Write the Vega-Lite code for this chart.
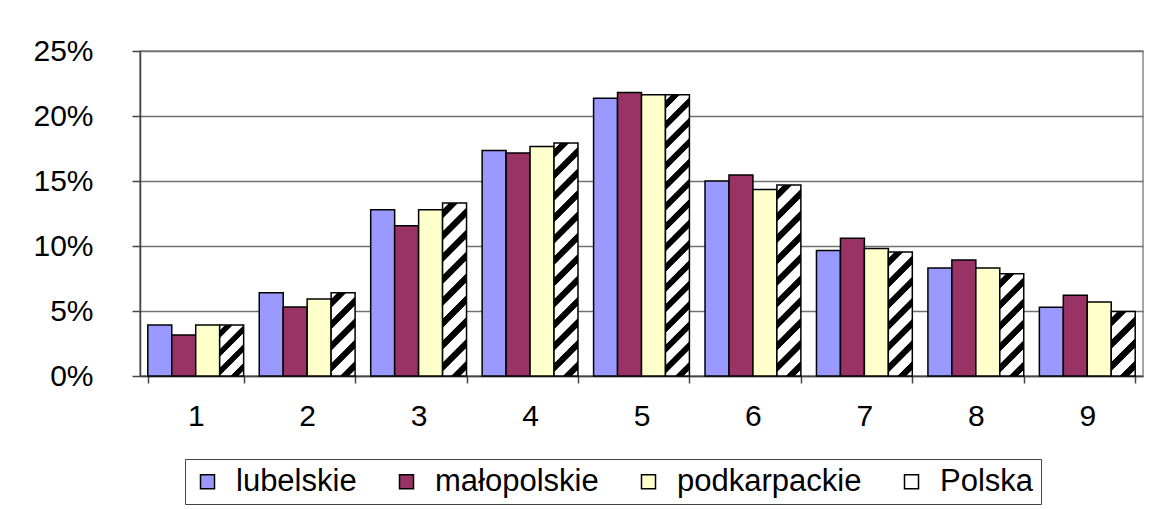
{
  "$schema": "https://vega.github.io/schema/vega-lite/v6.json",
  "autosize": {"type": "none"},
  "width": 1003,
  "height": 325,
  "padding": {"left": 140, "top": 51, "right": 14, "bottom": 133},
  "background": "#ffffff",
  "config": {
    "font": "Liberation Sans",
    "view": {"stroke": "#888888", "strokeWidth": 1.5},
    "axis": {"labelFont": "Liberation Sans", "labelColor": "#000000"},
    "legend": {"labelFont": "Liberation Sans", "labelColor": "#000000"}
  },
  "data": {
    "values": [
      {"g": 1, "series": "lubelskie", "share": 0.0393},
      {"g": 1, "series": "małopolskie", "share": 0.0315},
      {"g": 1, "series": "podkarpackie", "share": 0.0393},
      {"g": 1, "series": "Polska", "share": 0.0393},
      {"g": 2, "series": "lubelskie", "share": 0.064},
      {"g": 2, "series": "małopolskie", "share": 0.0531},
      {"g": 2, "series": "podkarpackie", "share": 0.0593},
      {"g": 2, "series": "Polska", "share": 0.064},
      {"g": 3, "series": "lubelskie", "share": 0.1279},
      {"g": 3, "series": "małopolskie", "share": 0.1156},
      {"g": 3, "series": "podkarpackie", "share": 0.1279},
      {"g": 3, "series": "Polska", "share": 0.133},
      {"g": 4, "series": "lubelskie", "share": 0.1734},
      {"g": 4, "series": "małopolskie", "share": 0.1716},
      {"g": 4, "series": "podkarpackie", "share": 0.1766},
      {"g": 4, "series": "Polska", "share": 0.1792},
      {"g": 5, "series": "lubelskie", "share": 0.2137},
      {"g": 5, "series": "małopolskie", "share": 0.218},
      {"g": 5, "series": "podkarpackie", "share": 0.2163},
      {"g": 5, "series": "Polska", "share": 0.2163},
      {"g": 6, "series": "lubelskie", "share": 0.15},
      {"g": 6, "series": "małopolskie", "share": 0.1547},
      {"g": 6, "series": "podkarpackie", "share": 0.1434},
      {"g": 6, "series": "Polska", "share": 0.1469},
      {"g": 7, "series": "lubelskie", "share": 0.0966},
      {"g": 7, "series": "małopolskie", "share": 0.106},
      {"g": 7, "series": "podkarpackie", "share": 0.098},
      {"g": 7, "series": "Polska", "share": 0.0953},
      {"g": 8, "series": "lubelskie", "share": 0.0831},
      {"g": 8, "series": "małopolskie", "share": 0.0892},
      {"g": 8, "series": "podkarpackie", "share": 0.0831},
      {"g": 8, "series": "Polska", "share": 0.0786},
      {"g": 9, "series": "lubelskie", "share": 0.0528},
      {"g": 9, "series": "małopolskie", "share": 0.0621},
      {"g": 9, "series": "podkarpackie", "share": 0.057},
      {"g": 9, "series": "Polska", "share": 0.0497}
    ]
  },
  "mark": {"type": "bar", "stroke": "#000000", "strokeWidth": 1.5},
  "encoding": {
    "x": {
      "field": "g", "type": "ordinal",
      "scale": {"paddingInner": 0.14, "paddingOuter": 0.07},
      "axis": {
        "title": null, "labelAngle": 0, "labelFontSize": 30, "labelPadding": 18,
        "tickBand": "extent", "tickSize": 7, "tickColor": "#444444", "tickWidth": 1.5,
        "domainColor": "#444444", "domainWidth": 1.5, "grid": false
      }
    },
    "xOffset": {
      "field": "series", "type": "nominal",
      "scale": {"domain": ["lubelskie", "małopolskie", "podkarpackie", "Polska"], "paddingInner": 0, "paddingOuter": 0}
    },
    "y": {
      "field": "share", "type": "quantitative",
      "scale": {"domain": [0, 0.25], "nice": false},
      "axis": {
        "title": null, "format": ".0%", "values": [0, 0.05, 0.1, 0.15, 0.2, 0.25],
        "labelFontSize": 30, "labelPadding": 39, "tickSize": 8, "tickColor": "#444444", "tickWidth": 1.5,
        "domainColor": "#444444", "domainWidth": 1.5,
        "grid": true, "gridColor": "#707070", "gridWidth": 1.3
      }
    },
    "fill": {
      "field": "series", "type": "nominal",
      "scale": {
        "domain": ["lubelskie", "małopolskie", "podkarpackie", "Polska"],
        "range": ["#9999FF", "#993366", "#FFFFCC", "#ffffff"]
      },
      "legend": {
        "title": null, "orient": "none", "legendX": 45, "legendY": 408, "direction": "horizontal",
        "symbolType": "square", "symbolSize": 196, "symbolStrokeColor": "#000000", "symbolStrokeWidth": 1.5,
        "labelFontSize": 31, "labelOffset": 13, "labelLimit": 400, "columnPadding": 34, "padding": 7,
        "strokeColor": "#444444"
      },
      "condition": [
        {"test": "datum.series === 'Polska' && datum.g === 1", "value": {"gradient": "linear", "x1": 0, "y1": 0, "x2": 0.5655, "y2": 1.2041, "stops": [
          {"offset": 0.0675, "color": "#ffffff"}, {"offset": 0.08, "color": "#000000"}, {"offset": 0.17, "color": "#000000"}, {"offset": 0.1825, "color": "#ffffff"},
          {"offset": 0.3175, "color": "#ffffff"}, {"offset": 0.33, "color": "#000000"}, {"offset": 0.42, "color": "#000000"}, {"offset": 0.4325, "color": "#ffffff"},
          {"offset": 0.5675, "color": "#ffffff"}, {"offset": 0.58, "color": "#000000"}, {"offset": 0.67, "color": "#000000"}, {"offset": 0.6825, "color": "#ffffff"},
          {"offset": 0.8175, "color": "#ffffff"}, {"offset": 0.83, "color": "#000000"}, {"offset": 0.92, "color": "#000000"}, {"offset": 0.9325, "color": "#ffffff"}]}},
        {"test": "datum.series === 'Polska' && datum.g === 2", "value": {"gradient": "linear", "x1": 0, "y1": 0, "x2": 0.3431, "y2": 1.1895, "stops": [
          {"offset": 0.054, "color": "#ffffff"}, {"offset": 0.064, "color": "#000000"}, {"offset": 0.136, "color": "#000000"}, {"offset": 0.146, "color": "#ffffff"},
          {"offset": 0.254, "color": "#ffffff"}, {"offset": 0.264, "color": "#000000"}, {"offset": 0.336, "color": "#000000"}, {"offset": 0.346, "color": "#ffffff"},
          {"offset": 0.454, "color": "#ffffff"}, {"offset": 0.464, "color": "#000000"}, {"offset": 0.536, "color": "#000000"}, {"offset": 0.546, "color": "#ffffff"},
          {"offset": 0.654, "color": "#ffffff"}, {"offset": 0.664, "color": "#000000"}, {"offset": 0.736, "color": "#000000"}, {"offset": 0.746, "color": "#ffffff"},
          {"offset": 0.854, "color": "#ffffff"}, {"offset": 0.864, "color": "#000000"}, {"offset": 0.936, "color": "#000000"}, {"offset": 0.946, "color": "#ffffff"}]}},
        {"test": "datum.series === 'Polska' && datum.g === 3", "value": {"gradient": "linear", "x1": 0, "y1": 0, "x2": 0.1551, "y2": 1.1173, "stops": [
          {"offset": 0.03, "color": "#ffffff"}, {"offset": 0.0356, "color": "#000000"}, {"offset": 0.0756, "color": "#000000"}, {"offset": 0.0811, "color": "#ffffff"},
          {"offset": 0.1411, "color": "#ffffff"}, {"offset": 0.1467, "color": "#000000"}, {"offset": 0.1867, "color": "#000000"}, {"offset": 0.1922, "color": "#ffffff"},
          {"offset": 0.2522, "color": "#ffffff"}, {"offset": 0.2578, "color": "#000000"}, {"offset": 0.2978, "color": "#000000"}, {"offset": 0.3033, "color": "#ffffff"},
          {"offset": 0.3633, "color": "#ffffff"}, {"offset": 0.3689, "color": "#000000"}, {"offset": 0.4089, "color": "#000000"}, {"offset": 0.4144, "color": "#ffffff"},
          {"offset": 0.4744, "color": "#ffffff"}, {"offset": 0.48, "color": "#000000"}, {"offset": 0.52, "color": "#000000"}, {"offset": 0.5256, "color": "#ffffff"},
          {"offset": 0.5856, "color": "#ffffff"}, {"offset": 0.5911, "color": "#000000"}, {"offset": 0.6311, "color": "#000000"}, {"offset": 0.6367, "color": "#ffffff"},
          {"offset": 0.6967, "color": "#ffffff"}, {"offset": 0.7022, "color": "#000000"}, {"offset": 0.7422, "color": "#000000"}, {"offset": 0.7478, "color": "#ffffff"},
          {"offset": 0.8078, "color": "#ffffff"}, {"offset": 0.8133, "color": "#000000"}, {"offset": 0.8533, "color": "#000000"}, {"offset": 0.8589, "color": "#ffffff"},
          {"offset": 0.9189, "color": "#ffffff"}, {"offset": 0.9244, "color": "#000000"}, {"offset": 0.9644, "color": "#000000"}, {"offset": 0.97, "color": "#ffffff"}]}},
        {"test": "datum.series === 'Polska' && datum.g === 4", "value": {"gradient": "linear", "x1": 0, "y1": 0, "x2": 0.1124, "y2": 1.0914, "stops": [
          {"offset": 0.0225, "color": "#ffffff"}, {"offset": 0.0267, "color": "#000000"}, {"offset": 0.0567, "color": "#000000"}, {"offset": 0.0608, "color": "#ffffff"},
          {"offset": 0.1058, "color": "#ffffff"}, {"offset": 0.11, "color": "#000000"}, {"offset": 0.14, "color": "#000000"}, {"offset": 0.1442, "color": "#ffffff"},
          {"offset": 0.1892, "color": "#ffffff"}, {"offset": 0.1933, "color": "#000000"}, {"offset": 0.2233, "color": "#000000"}, {"offset": 0.2275, "color": "#ffffff"},
          {"offset": 0.2725, "color": "#ffffff"}, {"offset": 0.2767, "color": "#000000"}, {"offset": 0.3067, "color": "#000000"}, {"offset": 0.3108, "color": "#ffffff"},
          {"offset": 0.3558, "color": "#ffffff"}, {"offset": 0.36, "color": "#000000"}, {"offset": 0.39, "color": "#000000"}, {"offset": 0.3942, "color": "#ffffff"},
          {"offset": 0.4392, "color": "#ffffff"}, {"offset": 0.4433, "color": "#000000"}, {"offset": 0.4733, "color": "#000000"}, {"offset": 0.4775, "color": "#ffffff"},
          {"offset": 0.5225, "color": "#ffffff"}, {"offset": 0.5267, "color": "#000000"}, {"offset": 0.5567, "color": "#000000"}, {"offset": 0.5608, "color": "#ffffff"},
          {"offset": 0.6058, "color": "#ffffff"}, {"offset": 0.61, "color": "#000000"}, {"offset": 0.64, "color": "#000000"}, {"offset": 0.6442, "color": "#ffffff"},
          {"offset": 0.6892, "color": "#ffffff"}, {"offset": 0.6933, "color": "#000000"}, {"offset": 0.7233, "color": "#000000"}, {"offset": 0.7275, "color": "#ffffff"},
          {"offset": 0.7725, "color": "#ffffff"}, {"offset": 0.7767, "color": "#000000"}, {"offset": 0.8067, "color": "#000000"}, {"offset": 0.8108, "color": "#ffffff"},
          {"offset": 0.8558, "color": "#ffffff"}, {"offset": 0.86, "color": "#000000"}, {"offset": 0.89, "color": "#000000"}, {"offset": 0.8942, "color": "#ffffff"},
          {"offset": 0.9392, "color": "#ffffff"}, {"offset": 0.9433, "color": "#000000"}, {"offset": 0.9733, "color": "#000000"}, {"offset": 0.9775, "color": "#ffffff"}]}},
        {"test": "datum.series === 'Polska' && datum.g === 5", "value": {"gradient": "linear", "x1": 0, "y1": 0, "x2": 0.0918, "y2": 1.0774, "stops": [
          {"offset": 0.018, "color": "#ffffff"}, {"offset": 0.0213, "color": "#000000"}, {"offset": 0.0453, "color": "#000000"}, {"offset": 0.0487, "color": "#ffffff"},
          {"offset": 0.0847, "color": "#ffffff"}, {"offset": 0.088, "color": "#000000"}, {"offset": 0.112, "color": "#000000"}, {"offset": 0.1153, "color": "#ffffff"},
          {"offset": 0.1513, "color": "#ffffff"}, {"offset": 0.1547, "color": "#000000"}, {"offset": 0.1787, "color": "#000000"}, {"offset": 0.182, "color": "#ffffff"},
          {"offset": 0.218, "color": "#ffffff"}, {"offset": 0.2213, "color": "#000000"}, {"offset": 0.2453, "color": "#000000"}, {"offset": 0.2487, "color": "#ffffff"},
          {"offset": 0.2847, "color": "#ffffff"}, {"offset": 0.288, "color": "#000000"}, {"offset": 0.312, "color": "#000000"}, {"offset": 0.3153, "color": "#ffffff"},
          {"offset": 0.3513, "color": "#ffffff"}, {"offset": 0.3547, "color": "#000000"}, {"offset": 0.3787, "color": "#000000"}, {"offset": 0.382, "color": "#ffffff"},
          {"offset": 0.418, "color": "#ffffff"}, {"offset": 0.4213, "color": "#000000"}, {"offset": 0.4453, "color": "#000000"}, {"offset": 0.4487, "color": "#ffffff"},
          {"offset": 0.4847, "color": "#ffffff"}, {"offset": 0.488, "color": "#000000"}, {"offset": 0.512, "color": "#000000"}, {"offset": 0.5153, "color": "#ffffff"},
          {"offset": 0.5513, "color": "#ffffff"}, {"offset": 0.5547, "color": "#000000"}, {"offset": 0.5787, "color": "#000000"}, {"offset": 0.582, "color": "#ffffff"},
          {"offset": 0.618, "color": "#ffffff"}, {"offset": 0.6213, "color": "#000000"}, {"offset": 0.6453, "color": "#000000"}, {"offset": 0.6487, "color": "#ffffff"},
          {"offset": 0.6847, "color": "#ffffff"}, {"offset": 0.688, "color": "#000000"}, {"offset": 0.712, "color": "#000000"}, {"offset": 0.7153, "color": "#ffffff"},
          {"offset": 0.7513, "color": "#ffffff"}, {"offset": 0.7547, "color": "#000000"}, {"offset": 0.7787, "color": "#000000"}, {"offset": 0.782, "color": "#ffffff"},
          {"offset": 0.818, "color": "#ffffff"}, {"offset": 0.8213, "color": "#000000"}, {"offset": 0.8453, "color": "#000000"}, {"offset": 0.8487, "color": "#ffffff"},
          {"offset": 0.8847, "color": "#ffffff"}, {"offset": 0.888, "color": "#000000"}, {"offset": 0.912, "color": "#000000"}, {"offset": 0.9153, "color": "#ffffff"},
          {"offset": 0.9513, "color": "#ffffff"}, {"offset": 0.9547, "color": "#000000"}, {"offset": 0.9787, "color": "#000000"}, {"offset": 0.982, "color": "#ffffff"}]}},
        {"test": "datum.series === 'Polska' && datum.g === 6", "value": {"gradient": "linear", "x1": 0, "y1": 0, "x2": 0.1392, "y2": 1.1082, "stops": [
          {"offset": 0.027, "color": "#ffffff"}, {"offset": 0.032, "color": "#000000"}, {"offset": 0.068, "color": "#000000"}, {"offset": 0.073, "color": "#ffffff"},
          {"offset": 0.127, "color": "#ffffff"}, {"offset": 0.132, "color": "#000000"}, {"offset": 0.168, "color": "#000000"}, {"offset": 0.173, "color": "#ffffff"},
          {"offset": 0.227, "color": "#ffffff"}, {"offset": 0.232, "color": "#000000"}, {"offset": 0.268, "color": "#000000"}, {"offset": 0.273, "color": "#ffffff"},
          {"offset": 0.327, "color": "#ffffff"}, {"offset": 0.332, "color": "#000000"}, {"offset": 0.368, "color": "#000000"}, {"offset": 0.373, "color": "#ffffff"},
          {"offset": 0.427, "color": "#ffffff"}, {"offset": 0.432, "color": "#000000"}, {"offset": 0.468, "color": "#000000"}, {"offset": 0.473, "color": "#ffffff"},
          {"offset": 0.527, "color": "#ffffff"}, {"offset": 0.532, "color": "#000000"}, {"offset": 0.568, "color": "#000000"}, {"offset": 0.573, "color": "#ffffff"},
          {"offset": 0.627, "color": "#ffffff"}, {"offset": 0.632, "color": "#000000"}, {"offset": 0.668, "color": "#000000"}, {"offset": 0.673, "color": "#ffffff"},
          {"offset": 0.727, "color": "#ffffff"}, {"offset": 0.732, "color": "#000000"}, {"offset": 0.768, "color": "#000000"}, {"offset": 0.773, "color": "#ffffff"},
          {"offset": 0.827, "color": "#ffffff"}, {"offset": 0.832, "color": "#000000"}, {"offset": 0.868, "color": "#000000"}, {"offset": 0.873, "color": "#ffffff"},
          {"offset": 0.927, "color": "#ffffff"}, {"offset": 0.932, "color": "#000000"}, {"offset": 0.968, "color": "#000000"}, {"offset": 0.973, "color": "#ffffff"}]}},
        {"test": "datum.series === 'Polska' && datum.g === 7", "value": {"gradient": "linear", "x1": 0, "y1": 0, "x2": 0.2229, "y2": 1.1505, "stops": [
          {"offset": 0.0386, "color": "#ffffff"}, {"offset": 0.0457, "color": "#000000"}, {"offset": 0.0971, "color": "#000000"}, {"offset": 0.1043, "color": "#ffffff"},
          {"offset": 0.1814, "color": "#ffffff"}, {"offset": 0.1886, "color": "#000000"}, {"offset": 0.24, "color": "#000000"}, {"offset": 0.2471, "color": "#ffffff"},
          {"offset": 0.3243, "color": "#ffffff"}, {"offset": 0.3314, "color": "#000000"}, {"offset": 0.3829, "color": "#000000"}, {"offset": 0.39, "color": "#ffffff"},
          {"offset": 0.4671, "color": "#ffffff"}, {"offset": 0.4743, "color": "#000000"}, {"offset": 0.5257, "color": "#000000"}, {"offset": 0.5329, "color": "#ffffff"},
          {"offset": 0.61, "color": "#ffffff"}, {"offset": 0.6171, "color": "#000000"}, {"offset": 0.6686, "color": "#000000"}, {"offset": 0.6757, "color": "#ffffff"},
          {"offset": 0.7529, "color": "#ffffff"}, {"offset": 0.76, "color": "#000000"}, {"offset": 0.8114, "color": "#000000"}, {"offset": 0.8186, "color": "#ffffff"},
          {"offset": 0.8957, "color": "#ffffff"}, {"offset": 0.9029, "color": "#000000"}, {"offset": 0.9543, "color": "#000000"}, {"offset": 0.9614, "color": "#ffffff"}]}},
        {"test": "datum.series === 'Polska' && datum.g === 8", "value": {"gradient": "linear", "x1": 0, "y1": 0, "x2": 0.2748, "y2": 1.1703, "stops": [
          {"offset": 0.045, "color": "#ffffff"}, {"offset": 0.0533, "color": "#000000"}, {"offset": 0.1133, "color": "#000000"}, {"offset": 0.1217, "color": "#ffffff"},
          {"offset": 0.2117, "color": "#ffffff"}, {"offset": 0.22, "color": "#000000"}, {"offset": 0.28, "color": "#000000"}, {"offset": 0.2883, "color": "#ffffff"},
          {"offset": 0.3783, "color": "#ffffff"}, {"offset": 0.3867, "color": "#000000"}, {"offset": 0.4467, "color": "#000000"}, {"offset": 0.455, "color": "#ffffff"},
          {"offset": 0.545, "color": "#ffffff"}, {"offset": 0.5533, "color": "#000000"}, {"offset": 0.6133, "color": "#000000"}, {"offset": 0.6217, "color": "#ffffff"},
          {"offset": 0.7117, "color": "#ffffff"}, {"offset": 0.72, "color": "#000000"}, {"offset": 0.78, "color": "#000000"}, {"offset": 0.7883, "color": "#ffffff"},
          {"offset": 0.8783, "color": "#ffffff"}, {"offset": 0.8867, "color": "#000000"}, {"offset": 0.9467, "color": "#000000"}, {"offset": 0.955, "color": "#ffffff"}]}},
        {"test": "datum.series === 'Polska' && datum.g === 9", "value": {"gradient": "linear", "x1": 0, "y1": 0, "x2": 0.4449, "y2": 1.205, "stops": [
          {"offset": 0.0675, "color": "#ffffff"}, {"offset": 0.08, "color": "#000000"}, {"offset": 0.17, "color": "#000000"}, {"offset": 0.1825, "color": "#ffffff"},
          {"offset": 0.3175, "color": "#ffffff"}, {"offset": 0.33, "color": "#000000"}, {"offset": 0.42, "color": "#000000"}, {"offset": 0.4325, "color": "#ffffff"},
          {"offset": 0.5675, "color": "#ffffff"}, {"offset": 0.58, "color": "#000000"}, {"offset": 0.67, "color": "#000000"}, {"offset": 0.6825, "color": "#ffffff"},
          {"offset": 0.8175, "color": "#ffffff"}, {"offset": 0.83, "color": "#000000"}, {"offset": 0.92, "color": "#000000"}, {"offset": 0.9325, "color": "#ffffff"}]}}
      ]
    }
  }
}
